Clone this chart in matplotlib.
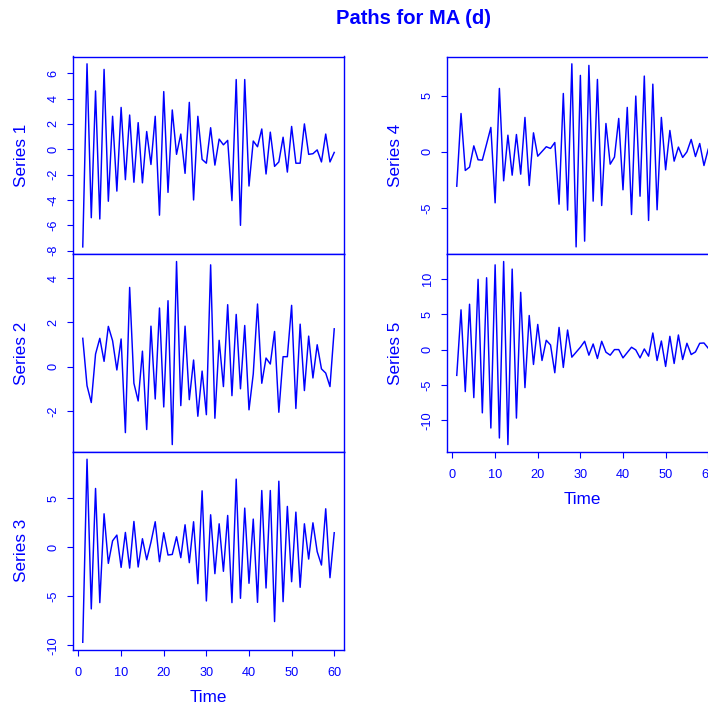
import matplotlib
matplotlib.use("Agg")
import matplotlib.pyplot as plt
import numpy as np

plt.rcParams['font.family'] = ['Liberation Sans', 'DejaVu Sans']

time = list(range(1, 61))

series1 = [-7.7, 6.74, -5.4, 4.6, -5.5, 6.3, -4.1, 2.6, -3.3, 3.3,
           -2.4, 2.7, -2.6, 2.1, -2.65, 1.4, -1.2, 2.6, -5.2, 4.55,
           -3.4, 3.1, -0.4, 1.2, -1.9, 3.7, -4.0, 2.6, -0.8, -1.1,
           1.7, -1.25, 0.8, 0.35, 0.7, -4.05, 5.5, -6.0, 5.5, -2.9,
           0.65, 0.2, 1.6, -1.95, 1.35, -1.35, -1.0, 0.95, -1.8, 1.8,
           -1.1, -1.1, 2.0, -0.4, -0.35, -0.05, -1.0, 1.2, -1.0, -0.25]

series2 = [1.28, -0.86, -1.62, 0.57, 1.28, 0.24, 1.82, 1.17, -0.15, 1.25,
           -2.98, 3.58, -0.75, -1.55, 0.7, -2.84, 1.83, -1.46, 2.65, -1.82,
           2.98, -3.52, 4.75, -1.76, 1.83, -1.49, 0.3, -2.24, -0.2, -2.17,
           4.6, -2.33, 1.19, -0.9, 2.8, -1.31, 2.36, -1.0, 1.86, -1.95,
           -0.33, 2.83, -0.75, 0.39, 0.12, 1.59, -2.06, 0.45, 0.45, 2.77,
           -1.89, 1.92, -1.08, 1.38, -0.51, 0.99, -0.1, -0.29, -0.9, 1.71]

series3 = [-9.7, 8.95, -6.3, 5.97, -5.66, 3.39, -1.66, 0.64, 1.22, -2.07,
           1.49, -2.14, 2.61, -2.03, 0.85, -1.29, 0.5, 2.58, -1.49, 1.46,
           -0.81, -0.75, 1.05, -1.08, 2.27, -1.59, 2.58, -3.73, 5.73, -5.49,
           3.29, -2.71, 2.37, -2.47, 3.22, -5.66, 6.92, -5.22, 3.97, -3.69,
           2.85, -5.63, 5.76, -4.17, 5.76, -7.59, 6.71, -5.56, 4.14, -3.53,
           3.56, -4.1, 2.37, -1.22, 2.47, -0.47, -1.83, 3.9, -3.12, 1.46]

series4 = [-3.06, 3.41, -1.66, -1.36, 0.53, -0.71, -0.74, 0.7, 2.17, -4.54,
           5.64, -2.58, 1.48, -2.08, 1.54, -1.99, 3.06, -3.0, 1.69, -0.39,
           0.03, 0.45, 0.3, 0.83, -4.66, 5.19, -5.19, 7.83, -8.46, 6.8,
           -7.95, 7.69, -4.39, 6.44, -4.78, 2.52, -1.1, -0.47, 2.97, -3.38,
           3.95, -5.58, 4.96, -3.95, 6.74, -6.11, 6.02, -5.16, 3.06, -1.6,
           1.9, -0.83, 0.42, -0.5, 0.0, 1.1, -0.42, 0.74, -1.22, 0.24]

series5 = [-3.64, 5.61, -5.93, 6.4, -6.78, 9.91, -8.93, 10.14, -11.07, 11.96,
           -12.48, 12.43, -13.41, 11.36, -9.67, 8.08, -5.37, 4.81, -2.1, 3.55,
           -1.54, 1.31, 0.65, -3.27, 3.13, -2.52, 2.76, -1.07, -0.37, 0.33,
           1.17, -0.79, 0.79, -1.26, 1.17, -0.37, -0.79, 0.0, 0.0, -1.17,
           -0.42, 0.33, -0.05, -1.17, 0.09, -0.93, 2.34, -1.54, 1.21, -2.38,
           1.87, -1.96, 2.06, -1.4, 0.89, -0.7, -0.33, 0.89, 0.93, 0.19]

series_names = ["Series 1", "Series 2", "Series 3", "Series 4", "Series 5"]
yticks = [[-8, -6, -4, -2, 0, 2, 4, 6],
          [-2, 0, 2, 4],
          [-10, -5, 0, 5],
          [-5, 0, 5],
          [-10, -5, 0, 5, 10]]
xticks = [0, 10, 20, 30, 40, 50, 60]
title = "Paths for MA (d)"
xlabel = "Time"

BLUE = "#0000FF"
W, H = 708, 707
fig = plt.figure(figsize=(W / 100, H / 100), dpi=100)

def px_axes(left, top, width, height):
    return fig.add_axes([left / W, 1 - (top + height) / H, width / W, height / H])

aw = 271.6
ah = 197.7
tops = [56.5, 254.2, 451.9]
lefts = [72.7, 446.7]
positions = [(lefts[0], tops[0]), (lefts[0], tops[1]), (lefts[0], tops[2]),
             (lefts[1], tops[0]), (lefts[1], tops[1])]
data = [series1, series2, series3, series4, series5]
bottom_panels = {2, 4}
label_x = [22, 22, 22, 395, 395]

for i, (pos, vals) in enumerate(zip(positions, data)):
    ax = px_axes(pos[0], pos[1], aw, ah)
    ax.plot(time, vals, color=BLUE, lw=1.05)
    ax.margins(x=0.04, y=0.04)
    ax.set_yticks(yticks[i])
    ax.set_yticklabels([str(v) for v in yticks[i]], rotation=90, va='center')
    for s in ax.spines.values():
        s.set_color(BLUE)
        s.set_linewidth(1.0)
    ax.tick_params(axis='y', colors=BLUE, labelsize=9.2, length=4.5, width=0.8,
                   pad=5, labelcolor=BLUE)
    if i in bottom_panels:
        ax.set_xticks(xticks)
        ax.tick_params(axis='x', colors=BLUE, labelsize=9.2, length=4.5, width=0.8,
                       pad=8, labelcolor=BLUE)
        cx = pos[0] + aw / 2
        fig.text(cx / W, 1 - (pos[1] + ah + 48) / H, xlabel, color=BLUE,
                 fontsize=12.3, ha='center', va='center')
    else:
        ax.set_xticks([])
    cy = pos[1] + ah / 2
    fig.text(label_x[i] / W, 1 - cy / H, series_names[i], color=BLUE,
             fontsize=12.3, rotation=90, ha='center', va='center')

fig.text(414 / W, 1 - 18 / H, title, color=BLUE, fontsize=14.5,
         fontweight='bold', ha='center', va='center')

fig.savefig("out.png", dpi=100)
